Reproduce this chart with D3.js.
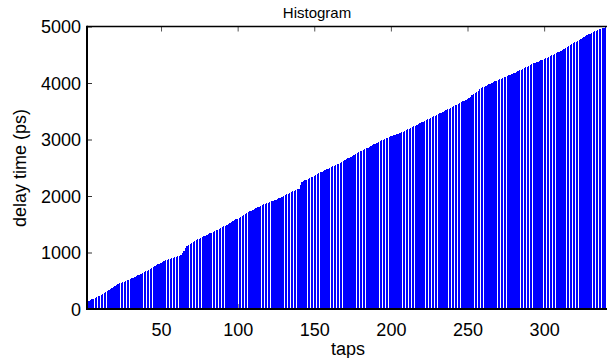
<!DOCTYPE html>
<html>
<head>
<meta charset="utf-8">
<script src="https://cdn.jsdelivr.net/npm/d3@7"></script>
<style>
  body { margin: 0; background: #fff; }
  text { font-family: "Liberation Sans", Arial, sans-serif; fill: #000; }
</style>
</head>
<body>
<div id="chart"></div>
<script>
"use strict";

// delay time (ps) for each tap
var delays = [
  130, 140, 150, 160, 175, 185, 200, 210, 225, 238,
  250, 268, 285, 300, 318, 335, 352, 370, 388, 405,
  422, 440, 452, 463, 475, 486, 497, 508, 520, 531,
  543, 554, 565, 580, 594, 608, 623, 637, 652, 666,
  681, 696, 710, 725, 741, 757, 772, 788, 803, 819,
  834, 850, 859, 868, 877, 886, 895, 904, 913, 922,
  931, 940, 950, 990, 1035, 1075, 1115, 1132, 1150, 1168,
  1185, 1203, 1220, 1233, 1246, 1260, 1273, 1286, 1299, 1312,
  1326, 1339, 1352, 1365, 1379, 1393, 1407, 1421, 1435, 1449,
  1463, 1477, 1491, 1505, 1520, 1536, 1552, 1569, 1585, 1601,
  1618, 1634, 1650, 1667, 1683, 1700, 1714, 1728, 1742, 1756,
  1770, 1784, 1798, 1812, 1826, 1840, 1850, 1861, 1871, 1882,
  1892, 1903, 1913, 1924, 1934, 1945, 1959, 1973, 1987, 2001,
  2015, 2029, 2042, 2056, 2070, 2082, 2094, 2106, 2118, 2130,
  2190, 2250, 2262, 2275, 2288, 2300, 2315, 2329, 2344, 2358,
  2373, 2387, 2402, 2416, 2431, 2445, 2460, 2473, 2485, 2498,
  2511, 2524, 2536, 2549, 2562, 2575, 2587, 2600, 2616, 2632,
  2648, 2664, 2680, 2696, 2712, 2728, 2744, 2760, 2774, 2788,
  2802, 2816, 2830, 2844, 2858, 2872, 2886, 2900, 2914, 2928,
  2942, 2956, 2969, 2983, 2997, 3011, 3025, 3035, 3045, 3055,
  3065, 3075, 3085, 3095, 3105, 3115, 3125, 3135, 3149, 3163,
  3177, 3191, 3205, 3219, 3233, 3247, 3262, 3276, 3290, 3303,
  3316, 3330, 3343, 3356, 3369, 3382, 3396, 3409, 3422, 3435,
  3449, 3463, 3477, 3491, 3505, 3519, 3533, 3547, 3561, 3575,
  3589, 3603, 3617, 3631, 3645, 3659, 3673, 3687, 3701, 3715,
  3737, 3758, 3780, 3802, 3823, 3845, 3867, 3888, 3910, 3923,
  3936, 3949, 3962, 3976, 3989, 4002, 4015, 4028, 4042, 4055,
  4066, 4078, 4089, 4101, 4112, 4123, 4135, 4146, 4158, 4169,
  4180, 4194, 4208, 4222, 4236, 4250, 4264, 4278, 4292, 4306,
  4320, 4335, 4346, 4358, 4369, 4380, 4392, 4403, 4414, 4426,
  4437, 4449, 4460, 4474, 4488, 4502, 4516, 4530, 4543, 4557,
  4571, 4585, 4602, 4618, 4635, 4651, 4668, 4684, 4701, 4717,
  4734, 4751, 4767, 4784, 4800, 4817, 4833, 4850, 4863, 4876,
  4889, 4902, 4915, 4929, 4942, 4955, 4964, 4973, 4982, 4990
];

var xTicks = [50, 100, 150, 200, 250, 300];
var yTicks = [0, 1000, 2000, 3000, 4000, 5000];

var width = 607, height = 358;

var svg = d3.select("#chart").append("svg")
    .attr("width", width)
    .attr("height", height);

// the axes box runs a little past the right edge of the picture
var x = d3.scaleLinear().domain([1.7, 342]).range([87, 608.5]);
var y = d3.scaleLinear().domain([0, 5000]).range([309, 26.5]);

var step = x(2) - x(1);

svg.append("clipPath").attr("id", "plotclip")
  .append("rect")
    .attr("x", x.range()[0]).attr("y", y.range()[1])
    .attr("width", x.range()[1] - x.range()[0])
    .attr("height", y.range()[0] - y.range()[1]);

// inward ticks along the bottom, drawn under the bars
svg.append("g")
    .attr("transform", "translate(0," + y(0) + ")")
    .call(d3.axisBottom(x).tickValues(xTicks).tickSize(-5).tickFormat(""))
    .call(function(g) { g.select(".domain").remove(); })
    .selectAll("line").attr("stroke", "#555");

// bars
svg.append("g")
    .attr("clip-path", "url(#plotclip)")
  .selectAll("rect")
    .data(delays)
  .enter().append("rect")
    .attr("x", function(d, i) { return x(i + 1) - step * 0.4; })
    .attr("width", step * 0.8)
    .attr("y", function(d) { return y(d); })
    .attr("height", function(d) { return y(0) - y(d); })
    .attr("fill", "#0000ff")
    .attr("shape-rendering", "crispEdges");

// x axis labels
svg.append("g")
    .attr("transform", "translate(0," + y(0) + ")")
    .call(d3.axisBottom(x).tickValues(xTicks).tickSize(0).tickPadding(14))
    .call(function(g) {
      g.select(".domain").remove();
      g.selectAll("text")
        .attr("font-size", 18)
        .attr("font-family", "Liberation Sans, Arial, sans-serif")
        .attr("dy", null)
        .attr("y", 27);
    });

// y axis with inward ticks
svg.append("g")
    .attr("transform", "translate(" + x.range()[0] + ",0)")
    .call(d3.axisLeft(y).tickValues(yTicks).tickSize(-5).tickPadding(6).tickFormat(d3.format("d")))
    .call(function(g) {
      g.select(".domain").remove();
      g.selectAll("line").attr("stroke", "#333");
      g.selectAll("text")
        .attr("font-size", 18)
        .attr("font-family", "Liberation Sans, Arial, sans-serif")
        .attr("x", -6)
        .attr("dy", "0.36em");
    });

// top ticks, pointing down
svg.append("g")
    .attr("transform", "translate(0," + y.range()[1] + ")")
    .call(d3.axisTop(x).tickValues(xTicks).tickSize(-5).tickFormat(""))
    .call(function(g) { g.select(".domain").remove(); })
    .selectAll("line").attr("stroke", "#555");

// axis lines
svg.append("line")
    .attr("x1", x.range()[0]).attr("x2", width)
    .attr("y1", y(0)).attr("y2", y(0))
    .attr("stroke", "#000").attr("stroke-width", 2);
svg.append("line")
    .attr("x1", x.range()[0]).attr("x2", width)
    .attr("y1", y.range()[1]).attr("y2", y.range()[1])
    .attr("stroke", "#000").attr("stroke-width", 1.5);
svg.append("line")
    .attr("x1", x.range()[0]).attr("x2", x.range()[0])
    .attr("y1", y.range()[1] - 0.75).attr("y2", y(0) + 1)
    .attr("stroke", "#000").attr("stroke-width", 2);

// titles
svg.append("text")
    .attr("x", 317).attr("y", 18)
    .attr("text-anchor", "middle")
    .attr("font-size", 15)
    .text("Histogram");

svg.append("text")
    .attr("x", 348).attr("y", 355)
    .attr("text-anchor", "middle")
    .attr("font-size", 18)
    .text("taps");

svg.append("text")
    .attr("transform", "translate(26,168) rotate(-90)")
    .attr("text-anchor", "middle")
    .attr("font-size", 18)
    .text("delay time (ps)");
</script>
</body>
</html>
